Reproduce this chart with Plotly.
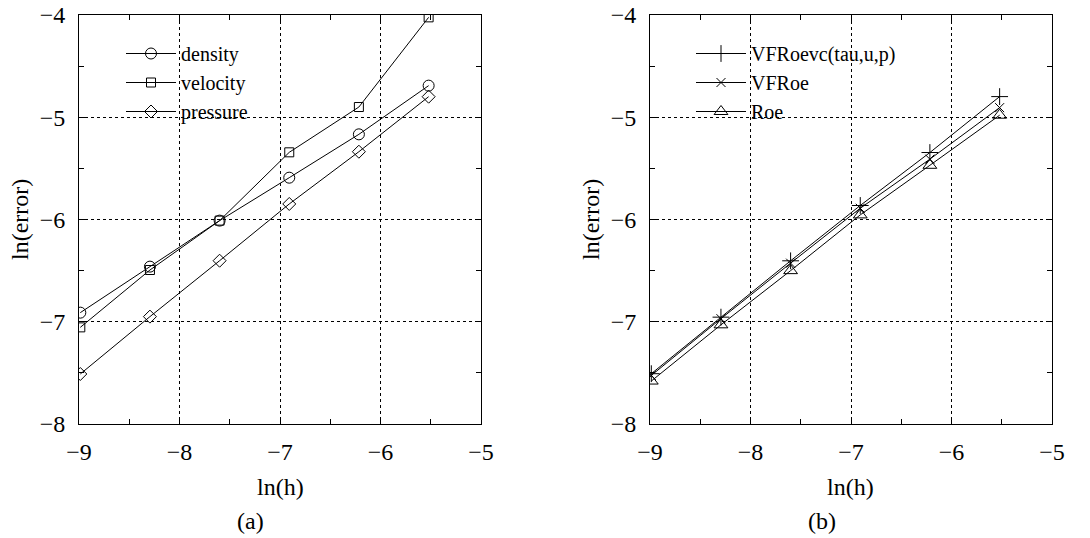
import plotly.graph_objects as go

# data
ln_h = [-8.987, -8.294, -7.601, -6.908, -6.215, -5.521]

density = [-6.911, -6.461, -6.011, -5.591, -5.167, -4.691]
velocity = [-7.055, -6.494, -6.011, -5.343, -4.900, -4.023]
pressure = [-7.511, -6.950, -6.403, -5.848, -5.337, -4.799]

vfroevc = [-7.508, -6.955, -6.404, -5.863, -5.345, -4.798]
vfroe = [-7.525, -6.970, -6.427, -5.890, -5.410, -4.906]
roe = [-7.580, -7.030, -6.500, -5.955, -5.470, -4.980]

x_ticks = [-9, -8, -7, -6, -5]
y_ticks = [-8, -7, -6, -5, -4]

FONT = "Liberation Serif"
FS = 24

fig = go.Figure()

line = dict(color="black", width=1)

def add(y, name, symbol, size, xa, ya, legend):
    fig.add_trace(go.Scatter(
        x=ln_h, y=y, name=name, mode="lines+markers",
        line=line,
        marker=dict(symbol=symbol, size=size, color="black",
                    line=dict(color="black", width=1)),
        xaxis=xa, yaxis=ya, legend=legend))

add(density, "density", "circle-open", 11, "x", "y", "legend")
add(velocity, "velocity", "square-open", 9, "x", "y", "legend")
add(pressure, "pressure", "diamond-open", 10, "x", "y", "legend")

add(vfroevc, "VFRoevc(tau,u,p)", "cross-thin-open", 12, "x2", "y2", "legend2")
add(vfroe, "VFRoe", "x-thin-open", 9, "x2", "y2", "legend2")
add(roe, "Roe", "triangle-up-open", 12, "x2", "y2", "legend2")

# page has an 8px body margin: compute positions relative to it
OX, OY = 8, 8
W, H = 1090 - OX, 538 - OY


def px(x):
    return (x - OX) / W


def py(y):
    return 1 - (y - OY) / H


ydom = [py(424), py(15)]

axis_common = dict(
    showline=True, linecolor="black", linewidth=1, mirror="ticks",
    ticks="inside", ticklen=6, tickcolor="black", tickwidth=1,
    showgrid=True, gridcolor="black", griddash="dot", gridwidth=1,
    zeroline=False, automargin=False, ticklabeloverflow="allow",
    tickfont=dict(family=FONT, size=FS, color="black"),
    minor=dict(ticks="inside", ticklen=5, tickcolor="black", dtick=0.5,
               showgrid=False),
)

fig.update_layout(
    width=W, height=H,
    margin=dict(l=0, r=0, t=0, b=0, autoexpand=False),
    paper_bgcolor="white", plot_bgcolor="white",
    font=dict(family=FONT, size=FS, color="black"),
    xaxis=dict(domain=[px(79), px(481)], range=[-9, -5], tickvals=x_ticks,
               anchor="y", ticklabelstandoff=6, **axis_common),
    yaxis=dict(domain=ydom, range=[-8, -4], tickvals=y_ticks,
               anchor="x", ticklabelstandoff=8, **axis_common),
    xaxis2=dict(domain=[px(650), px(1052)], range=[-9, -5], tickvals=x_ticks,
                anchor="y2", ticklabelstandoff=6, **axis_common),
    yaxis2=dict(domain=ydom, range=[-8, -4], tickvals=y_ticks,
                anchor="x2", ticklabelstandoff=8, **axis_common),
    legend=dict(x=px(121), y=py(34), xanchor="left", yanchor="top",
                bgcolor="rgba(0,0,0,0)", tracegroupgap=0,
                font=dict(family=FONT, size=20), itemwidth=50),
    legend2=dict(x=px(691), y=py(34), xanchor="left", yanchor="top",
                 bgcolor="rgba(0,0,0,0)", tracegroupgap=0,
                 font=dict(family=FONT, size=20), itemwidth=50),
    showlegend=True,
)

ann = dict(showarrow=False, xref="paper", yref="paper",
           xanchor="center", yanchor="middle",
           font=dict(family=FONT, size=FS, color="black"))
fig.add_annotation(text="ln(h)", x=px(280), y=py(487), **ann)
fig.add_annotation(text="(a)", x=px(250), y=py(521), **ann)
fig.add_annotation(text="ln(h)", x=px(850), y=py(487), **ann)
fig.add_annotation(text="(b)", x=px(822), y=py(521), **ann)
fig.add_annotation(text="ln(error)", x=px(20), y=py(220), textangle=-90, **ann)
fig.add_annotation(text="ln(error)", x=px(591), y=py(220), textangle=-90, **ann)

fig.write_html("out.html")
